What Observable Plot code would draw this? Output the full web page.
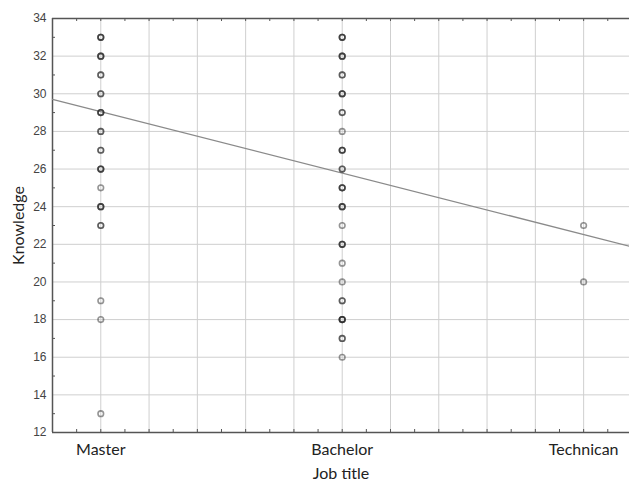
<!DOCTYPE html>
<html>
<head>
<meta charset="utf-8">
<script src="https://cdn.jsdelivr.net/npm/d3@7"></script>
<script src="https://cdn.jsdelivr.net/npm/@observablehq/plot@0.6"></script>
<style>
  html, body { margin: 0; padding: 0; background: #fff; overflow: hidden; }
  #chart { width: 629px; height: 481px; }
</style>
</head>
<body>
<div id="chart"></div>
<script>
// Categories (x positions 1, 2, 3)
const categories = ["Master", "Bachelor", "Technican"];

// Observed knowledge scores per job title, with how many respondents overlap at each value
const masterValues   = [33, 32, 31, 30, 29, 28, 27, 26, 25, 24, 23, 19, 18, 13];
const masterCounts   = [ 3,  3,  2,  2,  3,  2,  2,  3,  1,  3,  2,  1,  1,  1];
const bachelorValues = [33, 32, 31, 30, 29, 28, 27, 26, 25, 24, 23, 22, 21, 20, 19, 18, 17, 16];
const bachelorCounts = [ 3,  3,  2,  3,  2,  1,  3,  2,  3,  3,  1,  3,  1,  1,  2,  4,  2,  1];
const technicanValues = [23, 20];
const technicanCounts = [ 1,  1];

// Fitted regression line endpoints
const regX = [0.8, 3.19];
const regY = [29.7, 21.9];

// Axis ticks
const yTicks = [12, 14, 16, 18, 20, 22, 24, 26, 28, 30, 32, 34];
const xTicks = [1, 2, 3];

const series = [
  {cat: 1, values: masterValues, counts: masterCounts},
  {cat: 2, values: bachelorValues, counts: bachelorCounts},
  {cat: 3, values: technicanValues, counts: technicanCounts}
];
const points = [];
for (const s of series) {
  s.values.forEach((v, i) => {
    for (let k = 0; k < s.counts[i]; k++) points.push({x: s.cat, y: v});
  });
}

const xDomain = [0.8, 3.19];
const yDomain = [12, 34];
const xGrid = d3.range(1, 3.2001, 0.2);
const xMinor = d3.range(0.9, 3.19, 0.2);
const yGrid = d3.range(14, 33, 2);
const yMinor = d3.range(13, 34, 2);

const W = 629, H = 481, ML = 52, MT = 18, MB = 49, MR = 0;
const pxX = (xDomain[1] - xDomain[0]) / (W - ML - MR);
const pxY = (yDomain[1] - yDomain[0]) / (H - MT - MB);
const axisColor = "#555";

const chart = Plot.plot({
  width: W,
  height: H,
  marginLeft: ML,
  marginTop: MT,
  marginBottom: MB,
  marginRight: MR,
  x: {domain: xDomain},
  y: {domain: yDomain},
  style: {background: "#fff"},
  marks: [
    // grid
    Plot.ruleX(xGrid, {stroke: "#cfcfcf", strokeWidth: 1}),
    Plot.ruleY(yGrid, {stroke: "#cfcfcf", strokeWidth: 1}),
    // minor ticks
    Plot.ruleX(xMinor.concat(xGrid), {x: d => d, y1: 12, y2: 12 + 3 * pxY, stroke: axisColor, strokeWidth: 1}),
    Plot.ruleX(xMinor.concat(xGrid), {x: d => d, y1: 34 - 3 * pxY, y2: 34, stroke: axisColor, strokeWidth: 1}),
    Plot.ruleY(yMinor, {y: d => d, x1: 0.8, x2: 0.8 + 3 * pxX, stroke: axisColor, strokeWidth: 1}),
    // frame
    Plot.ruleX([0.8], {stroke: axisColor, strokeWidth: 1.5}),
    Plot.ruleY([12], {stroke: axisColor, strokeWidth: 1.5}),
    Plot.ruleY([34], {stroke: axisColor, strokeWidth: 1.5}),
    // regression line
    Plot.line(regX.map((x, i) => ({x, y: regY[i]})), {x: "x", y: "y", stroke: "#8a8a8a", strokeWidth: 1.3}),
    // points (overlapping respondents darken)
    Plot.dot(points, {x: "x", y: "y", r: 2.8, stroke: "#222", strokeOpacity: 0.48, strokeWidth: 1.6, fill: "none"}),
    // axes
    Plot.axisY(yTicks, {
      tickSize: 0, tickPadding: 6, fontSize: 12, fontFamily: "Liberation Sans, Arial, sans-serif",
      color: "#444", label: "Knowledge", labelAnchor: "center", labelOffset: 40, labelArrow: "none"
    }),
    Plot.axisX(xTicks, {
      tickSize: 0, tickPadding: 11, fontSize: 16, fontFamily: "Lato, 'Open Sans', sans-serif",
      tickFormat: d => categories[d - 1], color: "#222",
      label: "Job title", labelAnchor: "center", labelOffset: 46, labelArrow: "none"
    })
  ]
});
document.getElementById("chart").appendChild(chart);
// style axis labels
chart.querySelectorAll("[aria-label='y-axis label'] text, [aria-label='x-axis label'] text").forEach(t => {
  t.style.fontFamily = "Lato, 'Open Sans', sans-serif";
  t.style.fontSize = "16px";
  t.style.fill = "#222";
});
</script>
</body>
</html>
